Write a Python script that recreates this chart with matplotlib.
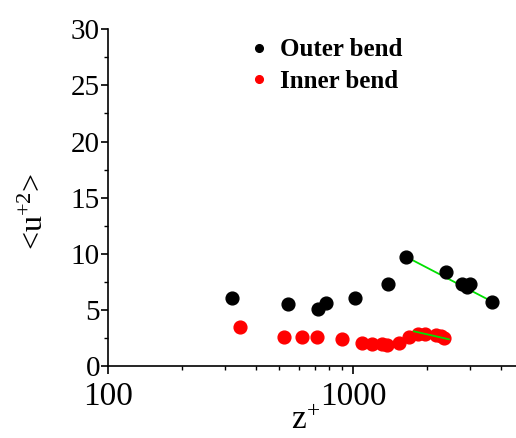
import matplotlib
matplotlib.use("Agg")
import matplotlib.pyplot as plt
from matplotlib.ticker import FixedLocator, NullFormatter, LogLocator

plt.rcParams['font.family'] = ['Liberation Serif', 'DejaVu Serif']
plt.rcParams['mathtext.fontset'] = 'custom'
plt.rcParams['mathtext.rm'] = 'Liberation Serif'
plt.rcParams['mathtext.it'] = 'Liberation Serif'

outer_z = [321, 541, 720, 774, 1016, 1392, 1641, 2384, 2770, 2903, 2995, 3694]
outer_u = [6.09, 5.53, 5.11, 5.64, 6.03, 7.35, 9.74, 8.38, 7.28, 7.07, 7.31, 5.73]
inner_z = [345, 523, 615, 711, 897, 1082, 1189, 1306, 1376, 1539, 1693, 1842, 1962, 2176, 2274, 2344]
inner_u = [3.50, 2.56, 2.56, 2.56, 2.42, 2.02, 1.96, 1.96, 1.85, 2.08, 2.61, 2.88, 2.83, 2.76, 2.70, 2.47]
fit_outer_z = [1641, 3680]
fit_outer_u = [9.74, 5.75]
fit_inner_z = [1769, 2459]
fit_inner_u = [3.09, 2.38]

fig = plt.figure(figsize=(5.16, 4.38), dpi=100)
ax = fig.add_axes([108.3/516, 1-366/438, 1-108.3/516, (366-29.3)/438])

ax.plot(outer_z, outer_u, 'o', color='black', ms=9.2, label='Outer bend', zorder=3)
ax.plot(inner_z, inner_u, 'o', color='red', ms=9.2, label='Inner bend', zorder=3)
ax.plot(fit_outer_z, fit_outer_u, '-', color='#00e000', lw=1.3, zorder=2)
ax.plot(fit_inner_z, fit_inner_u, '-', color='#00e000', lw=1.3, zorder=4)

ax.set_xscale('log')
ax.set_xlim(100, 4620)
ax.set_ylim(0, 30)
ax.set_yticks([0, 5, 10, 15, 20, 25, 30])
ax.yaxis.set_minor_locator(FixedLocator([2.5, 7.5, 12.5, 17.5, 22.5, 27.5]))
ax.set_xticks([100, 1000])
ax.set_xticklabels(['100', '1000'])
ax.xaxis.set_minor_locator(LogLocator(base=10, subs=range(2, 10)))
ax.xaxis.set_minor_formatter(NullFormatter())

for s in ['top', 'right']:
    ax.spines[s].set_visible(False)
for s in ['left', 'bottom']:
    ax.spines[s].set_linewidth(1.2)

ax.tick_params(which='major', direction='out', length=5, width=1.2, pad=1)
ax.tick_params(axis='y', which='major', labelsize=21)
ax.tick_params(axis='x', which='major', labelsize=24, pad=5, length=6)
ax.tick_params(which='minor', direction='out', length=3, width=1.0)

ax.set_xlabel('z$^{+}$', fontsize=24)
ax.xaxis.set_label_coords(0.485, -0.118, transform=ax.transAxes)
ax.xaxis.label.set_va('top')
ax.set_ylabel('<u$^{+2}$>', fontsize=23)
ax.yaxis.set_label_coords(-0.143, 0.46)

leg = ax.legend(loc='upper left', bbox_to_anchor=(0.293, 1.04), frameon=False,
                prop={'family': 'Liberation Serif', 'weight': 'bold', 'size': 18},
                markerscale=0.6, handlelength=0.7, handletextpad=0.5, labelspacing=0.35)

fig.savefig('out.png', dpi=100)
